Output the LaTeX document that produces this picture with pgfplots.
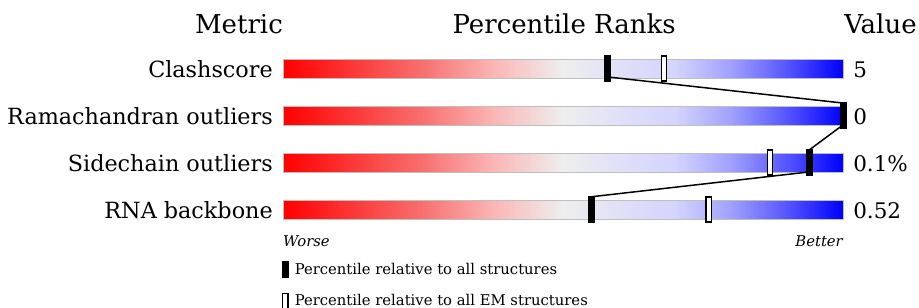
\documentclass[border=0pt]{standalone}
\usepackage{fontspec}
\setmainfont{DejaVu Serif}
\usepackage{pgfplots}
\pgfplotsset{compat=1.18}
\usepackage{pgfplotstable}

\definecolor{s1}{HTML}{FF0000}
\definecolor{s2}{HTML}{F87070}
\definecolor{s3}{HTML}{FBB5B5}
\definecolor{s4}{HTML}{EEEEEE}
\definecolor{s5}{HTML}{E0E0F8}
\definecolor{s6}{HTML}{D4D4FE}
\definecolor{s7}{HTML}{A0A0FF}
\definecolor{s8}{HTML}{5555FF}
\definecolor{s9}{HTML}{0000FF}
\pgfdeclarehorizontalshading{slider}{100bp}{color(0bp)=(s1); color(25bp)=(s1); color(37.5bp)=(s2); color(43.75bp)=(s3); color(50bp)=(s4); color(55bp)=(s5); color(60bp)=(s6); color(65bp)=(s7); color(70bp)=(s8); color(75bp)=(s9); color(100bp)=(s9)}

\pgfdeclareplotmark{solidbar}{\pgfpathrectangle{\pgfqpoint{-3.5bp}{-13.5bp}}{\pgfqpoint{7bp}{27bp}}\pgfusepathqfill}
\pgfdeclareplotmark{hollowbar}{\pgfpathrectangle{\pgfqpoint{-2.6bp}{-12.6bp}}{\pgfqpoint{5.2bp}{25.2bp}}\pgfusepathqfillstroke}

% row, percentile vs all structures, percentile vs EM structures
\pgfplotstableread{
row all em
0 58 68
1 100 100
2 94 87
3 55 76
}\pct

\newcommand{\lab}{\fontsize{22.3bp}{26bp}\selectfont}
\newcommand{\val}{\fontsize{21.5bp}{26bp}\selectfont}
\newcommand{\hdr}{\fontsize{26bp}{30bp}\selectfont}
\newcommand{\sml}{\fontsize{14.8bp}{18bp}\selectfont}

\begin{document}
\begin{tikzpicture}
\useasboundingbox (0,0) rectangle (919bp,-308bp);
\begin{axis}[
  at={(283bp,-68.5bp)}, anchor=origin,
  x=5.6bp, y=47bp, y dir=reverse,
  xmin=0, xmax=100, ymin=-0.5, ymax=3.5,
  hide axis, clip=false,
  legend style={draw=none, fill=none, at={(-0.002,-0.149)}, anchor=north west,
    font=\sml, row sep=15bp, column sep=4bp,
    inner sep=0pt, outer sep=0pt},
  legend cell align=left,
]
% slider bars
\addplot[xbar, bar width=19bp, draw=black!25, line width=0.6bp, shade, shading=slider, forget plot]
  coordinates {(100,0) (100,1) (100,2) (100,3)};
% hollow markers (EM structures)
\addplot[only marks, mark=hollowbar, mark options={fill=white, draw=black, line width=1.3bp}, forget plot]
  table[x=em, y=row] {\pct};
% connecting lines
\addplot[black, line width=1.5bp, forget plot] coordinates {(58,0.18) (100,0.735)};
\addplot[black, line width=1.5bp, forget plot] coordinates {(100,1.2) (94,1.73)};
\addplot[black, line width=1.5bp, forget plot] coordinates {(94,2.2) (55,2.73)};
% solid markers (all structures)
\addplot[only marks, mark=solidbar, mark options={fill=black}, forget plot]
  table[x=all, y=row] {\pct};
% legend
\addlegendimage{legend image code/.code={\fill[black] (0bp,-7.8bp) rectangle (6.5bp,7.8bp);}}
\addlegendentry{Percentile relative to all structures}
\addlegendimage{legend image code/.code={\draw[black, fill=white, line width=1.2bp] (0.6bp,-7.4bp) rectangle (5.9bp,7.4bp);}}
\addlegendentry{Percentile relative to all EM structures}

% headers
\node[font=\hdr, anchor=base east, inner sep=0pt] at (axis cs:0,-0.755) {Metric};
\node[font=\hdr, anchor=base, inner sep=0pt] at (axis cs:50.2,-0.755) {Percentile Ranks};
\node[font=\hdr, anchor=base west, inner sep=0pt] at (axis cs:100.2,-0.755) {Value};
% metric names
\node[font=\lab, anchor=base east, inner sep=0pt] at (axis cs:-1.79,0.183) {Clashscore};
\node[font=\lab, anchor=base east, inner sep=0pt] at (axis cs:-1.79,1.183) {Ramachandran outliers};
\node[font=\lab, anchor=base east, inner sep=0pt] at (axis cs:-1.79,2.183) {Sidechain outliers};
\node[font=\lab, anchor=base east, inner sep=0pt] at (axis cs:-1.79,3.183) {RNA backbone};
% values
\node[font=\val, anchor=base west, inner sep=0pt] at (axis cs:101.8,0.185) {5};
\node[font=\val, anchor=base west, inner sep=0pt] at (axis cs:101.8,1.185) {0};
\node[font=\val, anchor=base west, inner sep=0pt] at (axis cs:101.8,2.185) {0.1\%};
\node[font=\val, anchor=base west, inner sep=0pt] at (axis cs:101.8,3.185) {0.52};
% worse / better
\node[font=\sml\itshape, anchor=base west, inner sep=0pt] at (axis cs:0,3.79) {Worse};
\node[font=\sml\itshape, anchor=base east, inner sep=0pt] at (axis cs:100,3.79) {Better};
\end{axis}
\end{tikzpicture}
\end{document}
